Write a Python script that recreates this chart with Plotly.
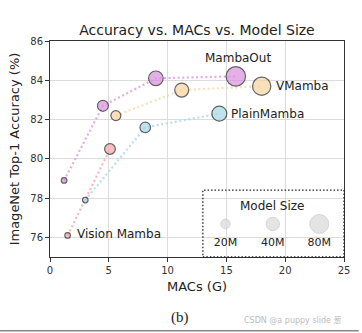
import plotly.graph_objects as go

# MACs (G), top-1 accuracy (%), parameters (M) for each model family
mambaout_macs = [1.2, 4.5, 9.0, 15.8]
mambaout_acc = [78.9, 82.7, 84.1, 84.2]
mambaout_params = [7, 27, 48, 85]

vmamba_macs = [5.6, 11.2, 18.0]
vmamba_acc = [82.2, 83.5, 83.7]
vmamba_params = [22, 44, 75]

plainmamba_macs = [3.0, 8.1, 14.4]
plainmamba_acc = [77.9, 81.6, 82.3]
plainmamba_params = [7, 25, 50]

vim_macs = [1.5, 5.1]
vim_acc = [76.1, 80.5]
vim_params = [7, 26]

size_legend_params = [20, 40, 80]
size_legend_labels = ["20M", "40M", "80M"]

x_ticks = [0, 5, 10, 15, 20, 25]
y_ticks = [76, 78, 80, 82, 84, 86]

FONT = "DejaVu Sans, Noto Sans CJK SC, sans-serif"
SIZEREF = 0.45  # area-scaled bubbles

families = [
    ("MambaOut", mambaout_macs, mambaout_acc, mambaout_params,
     "#DA8FDF", "rgba(218,143,223,0.75)", dict(xshift=2, yshift=18, xanchor="center")),
    ("VMamba", vmamba_macs, vmamba_acc, vmamba_params,
     "#F6D49E", "rgba(246,212,158,0.75)", dict(xshift=4, yshift=0, xanchor="left")),
    ("PlainMamba", plainmamba_macs, plainmamba_acc, plainmamba_params,
     "#A4D8E6", "rgba(164,216,230,0.8)", dict(xshift=3, yshift=0, xanchor="left")),
    ("Vision Mamba", vim_macs, vim_acc, vim_params,
     "#F6A5AD", "rgba(246,165,173,0.8)", dict(xshift=7, yshift=1, xanchor="left")),
]

fig = go.Figure()
annotations = []

for name, macs, acc, params, color, line_color, lab in families:
    fig.add_trace(go.Scatter(
        x=macs, y=acc, mode="lines",
        line=dict(color=line_color, width=2.2, dash="2px,2.6px"),
        hoverinfo="skip", showlegend=False,
    ))
for name, macs, acc, params, color, line_color, lab in families:
    fig.add_trace(go.Scatter(
        x=macs, y=acc, mode="markers", name=name,
        marker=dict(size=params, sizemode="area", sizeref=SIZEREF,
                    color=color, line=dict(color="#222222", width=1.2)),
        showlegend=False,
    ))
    if name == "Vision Mamba":
        # label beside the smallest model
        annotations.append(dict(
            x=macs[0], y=acc[0], xref="x", yref="y", text=name, showarrow=False,
            xshift=lab["xshift"], yshift=lab["yshift"], xanchor="left", yanchor="middle",
            font=dict(family=FONT, size=12, color="#222222"),
        ))
    else:
        # label attached to the largest model of each family
        annotations.append(dict(
            x=macs[-1], y=acc[-1], xref="x", yref="y", text=name, showarrow=False,
            xshift=lab["xshift"] + (0 if lab["xanchor"] == "center" else params[-1] ** 0.5),
            yshift=lab["yshift"], xanchor=lab["xanchor"], yanchor="middle",
            font=dict(family=FONT, size=12, color="#222222"),
        ))

# Model-size key drawn on an overlay axis spanning the plot area (0..1)
key_x = [0.597, 0.758, 0.916]
key_y = 0.153
fig.add_trace(go.Scatter(
    x=key_x, y=[key_y] * 3, mode="markers", xaxis="x2", yaxis="y2",
    marker=dict(size=size_legend_params, sizemode="area", sizeref=SIZEREF,
                color="#D9D9D9", line=dict(color="#C4C4C4", width=1)),
    hoverinfo="skip", showlegend=False,
))
fig.add_trace(go.Scatter(
    x=key_x, y=[0.065] * 3, mode="text", xaxis="x2", yaxis="y2",
    text=size_legend_labels, textposition="middle center",
    textfont=dict(family=FONT, size=11, color="#222222"),
    hoverinfo="skip", showlegend=False,
))
annotations.append(dict(
    x=0.755, y=0.236, xref="x2", yref="y2", text="Model Size", showarrow=False,
    font=dict(family=FONT, size=12, color="#222222"), xanchor="center", yanchor="middle",
))

# caption and watermark below the axes
annotations.append(dict(
    x=0.443, y=-0.282, xref="paper", yref="paper", text="(b)", showarrow=False,
    font=dict(family="Liberation Serif, serif", size=15, color="#222222"),
    xanchor="center", yanchor="middle",
))
annotations.append(dict(
    x=1.0, y=-0.292, xref="paper", yref="paper", text="CSDN @a puppy slide 葱",
    showarrow=False, font=dict(family=FONT, size=8, color="#BBBBBB"),
    xanchor="right", yanchor="middle",
))

shapes = [
    # dotted frame around the size key
    dict(type="rect", xref="paper", yref="paper", x0=0.52, x1=1.0, y0=0.0, y1=0.31,
         line=dict(color="#222222", width=1.3, dash="1.5px,2px"), layer="above"),
    # rule under the figure
    dict(type="line", xref="paper", yref="paper", x0=-0.17, x1=1.05, y0=-0.342, y1=-0.342,
         line=dict(color="#888888", width=1.5)),
]

axis_common = dict(
    showline=True, linecolor="#333333", linewidth=1, mirror=True,
    ticks="outside", ticklen=4, tickwidth=1, tickcolor="#333333",
    showgrid=True, gridcolor="#DCDCDC", gridwidth=1, zeroline=False,
    tickfont=dict(family=FONT, size=10, color="#333333"),
)

fig.update_layout(
    width=362, height=333,
    margin=dict(l=50, r=14, t=41, b=76),
    paper_bgcolor="white", plot_bgcolor="white",
    title=dict(text="Accuracy vs. MACs vs. Model Size", x=0.5, xref="paper",
               y=1 - 30 / 333, yanchor="middle",
               font=dict(family=FONT, size=14, color="#222222")),
    xaxis=dict(range=[0, 25], tickvals=x_ticks,
               title=dict(text="MACs (G)", standoff=6,
                          font=dict(family=FONT, size=13, color="#222222")),
               **axis_common),
    yaxis=dict(range=[75, 86], tickvals=y_ticks,
               title=dict(text="ImageNet Top-1 Accuracy (%)", standoff=7,
                          font=dict(family=FONT, size=13, color="#222222")),
               **axis_common),
    xaxis2=dict(overlaying="x", range=[0, 1], visible=False),
    yaxis2=dict(overlaying="y", range=[0, 1], visible=False),
    annotations=annotations,
    shapes=shapes,
    showlegend=False,
)

fig.write_html("out.html")
